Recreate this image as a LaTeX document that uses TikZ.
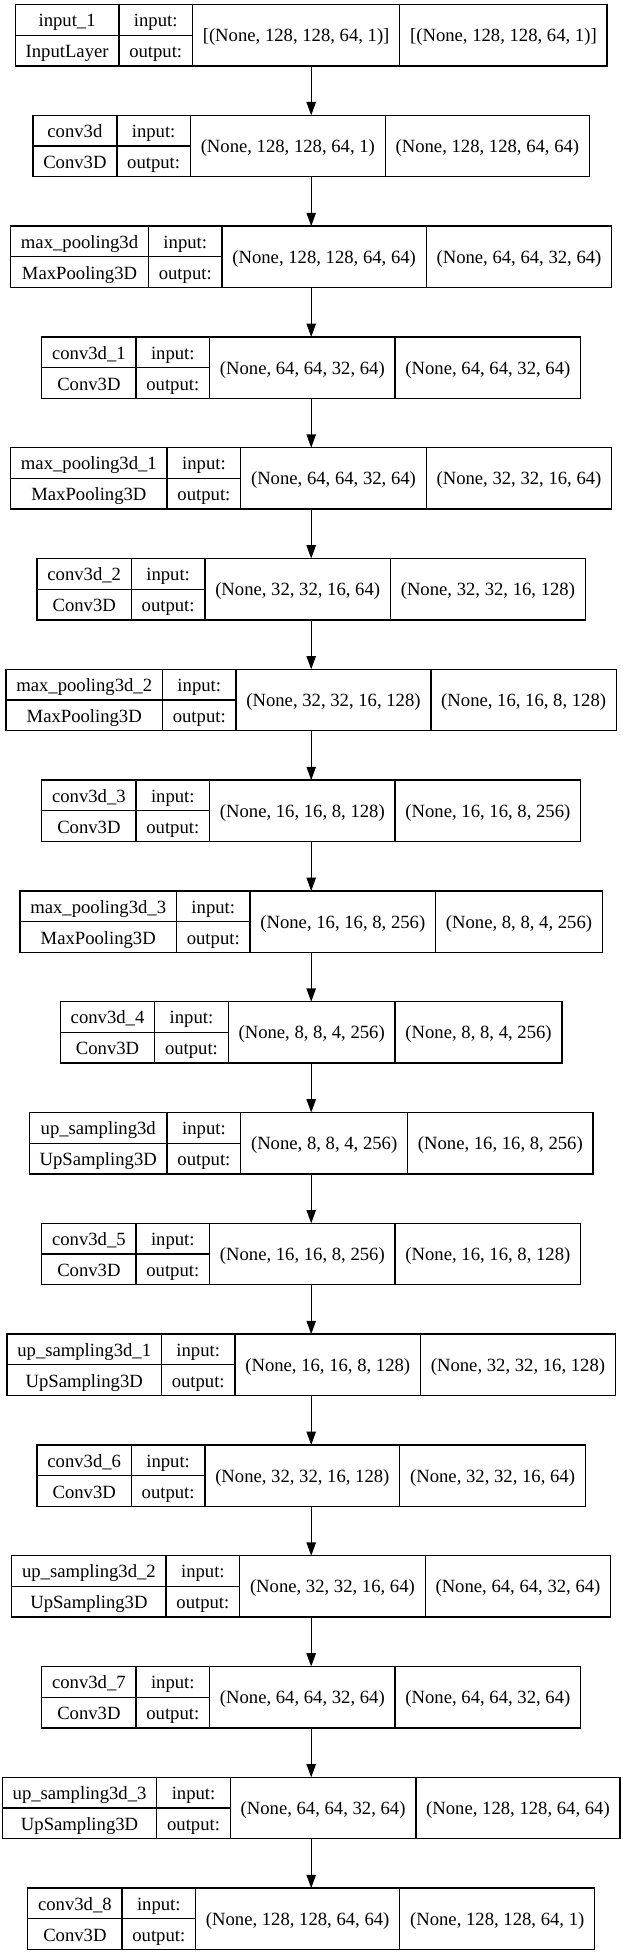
\documentclass[tikz,border=0pt]{standalone}
\usepackage{fontspec}
\setmainfont{Liberation Serif}
\usetikzlibrary{arrows.meta}
\newlength\lyA \newlength\lyB \newlength\lyC \newlength\lyD \newlength\lyT
\newlength\lyY \newlength\lyXb \newlength\lyXc
\newlength\lyPa \newlength\lyPb \newlength\lyPc \newlength\lyPd
\newcommand\lyfont{\fontsize{14}{16.8}\selectfont}
\newcommand\lypad{15.5pt}
\newcommand\lymeasure[2]{\settowidth#1{\pgfinterruptpicture\lyfont #2\endpgfinterruptpicture}}
\tikzset{
  blk/.style={draw=black, line width=1pt, inner sep=0pt, outer sep=0pt, minimum height=46pt},
  ln/.style={draw=black, line width=1pt},
  txt/.style={inner sep=0pt, outer sep=0pt, anchor=base, font=\lyfont, text=black},
  arr/.style={draw=black, line width=1pt, -{Triangle[length=10pt,width=7pt]}}
}
\newcommand\layerblk[5]{%
  \lymeasure\lyA{#2}\lymeasure\lyB{#3}%
  \ifdim\lyB>\lyA \lyA=\lyB\fi
  \advance\lyA by \lypad
  \lymeasure\lyB{output:}\advance\lyB by \lypad
  \lymeasure\lyC{#4}\advance\lyC by \lypad
  \lymeasure\lyD{#5}\advance\lyD by \lypad
  \lyT=\lyA \advance\lyT by \lyB \advance\lyT by \lyC \advance\lyT by \lyD
  \pgfmathsetlength\lyY{-(26.4+83.1*(#1-1))*1pt}%
  \lyXb=\lyA \advance\lyXb by \lyB
  \lyXc=\lyXb \advance\lyXc by \lyC
  \lyPa=0.5\lyA
  \lyPb=0.5\lyB \advance\lyPb by \lyA
  \lyPc=0.5\lyC \advance\lyPc by \lyXb
  \lyPd=0.5\lyD \advance\lyPd by \lyXc
  \node[blk, minimum width=\lyT] (L#1) at (233.4pt,\lyY) {};
  \draw[ln] ([xshift=\lyA]L#1.north west) -- ([xshift=\lyA]L#1.south west);
  \draw[ln] ([xshift=\lyXb]L#1.north west) -- ([xshift=\lyXb]L#1.south west);
  \draw[ln] ([xshift=\lyXc]L#1.north west) -- ([xshift=\lyXc]L#1.south west);
  \draw[ln] (L#1.west) -- ([xshift=\lyXb]L#1.west);
  \path (L#1.north west) ++(\the\lyPa,-16.6pt) node[txt] (L#1n) {#2};
  \path (L#1.south west) ++(\the\lyPa,6.2pt) node[txt] (L#1k) {#3};
  \path (L#1.north west) ++(\the\lyPb,-16.6pt) node[txt] (L#1i) {input:};
  \path (L#1.south west) ++(\the\lyPb,6.2pt) node[txt] (L#1o) {output:};
  \path (L#1.north west) ++(\the\lyPc,-27.8pt) node[txt] (L#1in) {#4};
  \path (L#1.north west) ++(\the\lyPd,-27.8pt) node[txt] (L#1out) {#5};
}
\begin{document}
\begin{tikzpicture}
\useasboundingbox[fill=white] (0,0) rectangle (467.25pt,-1466.25pt);
\layerblk{1}{input\_1}{InputLayer}{[(None, 128, 128, 64, 1)]}{[(None, 128, 128, 64, 1)]}
\layerblk{2}{conv3d}{Conv3D}{(None, 128, 128, 64, 1)}{(None, 128, 128, 64, 64)}
\layerblk{3}{max\_pooling3d}{MaxPooling3D}{(None, 128, 128, 64, 64)}{(None, 64, 64, 32, 64)}
\layerblk{4}{conv3d\_1}{Conv3D}{(None, 64, 64, 32, 64)}{(None, 64, 64, 32, 64)}
\layerblk{5}{max\_pooling3d\_1}{MaxPooling3D}{(None, 64, 64, 32, 64)}{(None, 32, 32, 16, 64)}
\layerblk{6}{conv3d\_2}{Conv3D}{(None, 32, 32, 16, 64)}{(None, 32, 32, 16, 128)}
\layerblk{7}{max\_pooling3d\_2}{MaxPooling3D}{(None, 32, 32, 16, 128)}{(None, 16, 16, 8, 128)}
\layerblk{8}{conv3d\_3}{Conv3D}{(None, 16, 16, 8, 128)}{(None, 16, 16, 8, 256)}
\layerblk{9}{max\_pooling3d\_3}{MaxPooling3D}{(None, 16, 16, 8, 256)}{(None, 8, 8, 4, 256)}
\layerblk{10}{conv3d\_4}{Conv3D}{(None, 8, 8, 4, 256)}{(None, 8, 8, 4, 256)}
\layerblk{11}{up\_sampling3d}{UpSampling3D}{(None, 8, 8, 4, 256)}{(None, 16, 16, 8, 256)}
\layerblk{12}{conv3d\_5}{Conv3D}{(None, 16, 16, 8, 256)}{(None, 16, 16, 8, 128)}
\layerblk{13}{up\_sampling3d\_1}{UpSampling3D}{(None, 16, 16, 8, 128)}{(None, 32, 32, 16, 128)}
\layerblk{14}{conv3d\_6}{Conv3D}{(None, 32, 32, 16, 128)}{(None, 32, 32, 16, 64)}
\layerblk{15}{up\_sampling3d\_2}{UpSampling3D}{(None, 32, 32, 16, 64)}{(None, 64, 64, 32, 64)}
\layerblk{16}{conv3d\_7}{Conv3D}{(None, 64, 64, 32, 64)}{(None, 64, 64, 32, 64)}
\layerblk{17}{up\_sampling3d\_3}{UpSampling3D}{(None, 64, 64, 32, 64)}{(None, 128, 128, 64, 64)}
\layerblk{18}{conv3d\_8}{Conv3D}{(None, 128, 128, 64, 64)}{(None, 128, 128, 64, 1)}
\foreach \i in {1,...,17}{
  \pgfmathtruncatemacro\j{\i+1}
  \draw[arr] (L\i.south) -- (L\j.north);
}
\end{tikzpicture}
\end{document}
